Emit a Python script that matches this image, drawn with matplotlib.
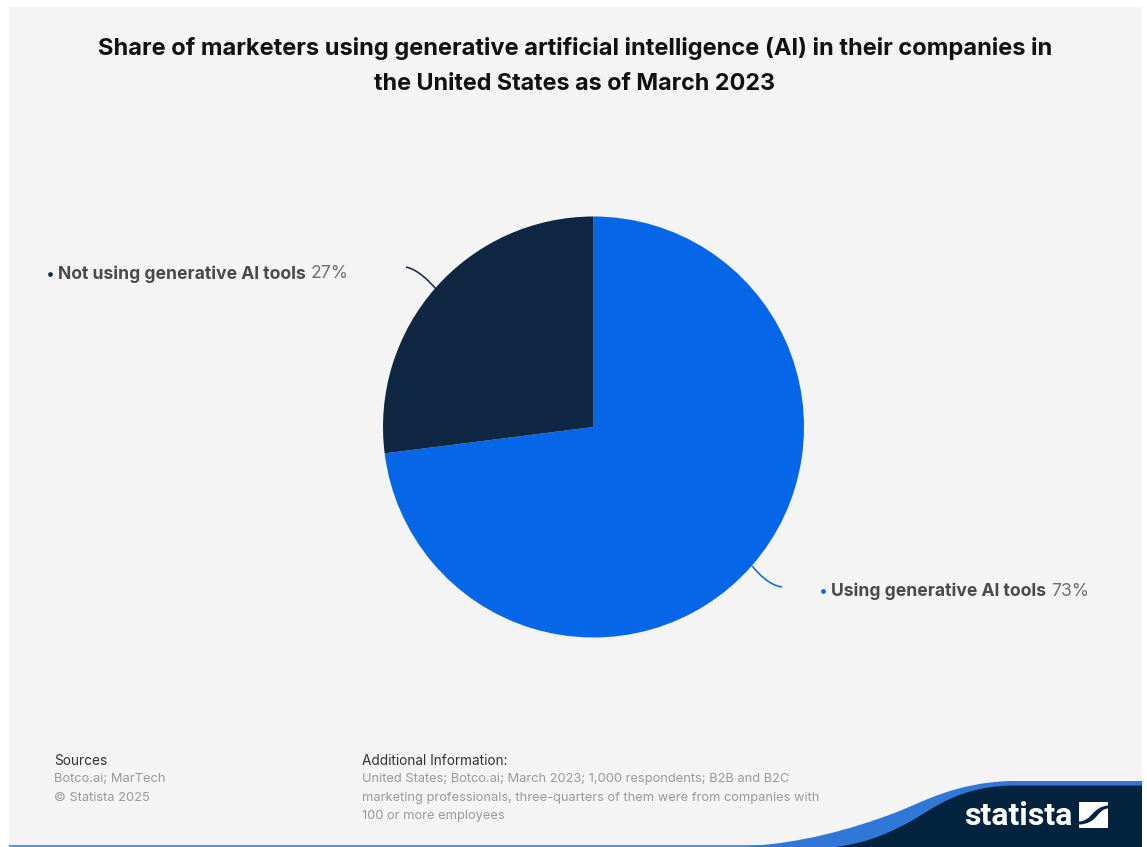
#!/usr/bin/env python3
import matplotlib
matplotlib.use("Agg")
import matplotlib.pyplot as plt
from matplotlib.patches import PathPatch, Rectangle
from matplotlib.path import Path

W, H = 1147, 847

title_lines = [
    "Share of marketers using generative artificial intelligence (AI) in their companies in",
    "the United States as of March 2023",
]
categories = ["Using generative AI tools", "Not using generative AI tools"]
shares = [73, 27]
colors = ["#0666e8", "#0f2742"]

source_lines = ["Botco.ai; MarTech", "© Statista 2025"]
info_lines = [
    "United States; Botco.ai; March 2023; 1,000 respondents; B2B and B2C",
    "marketing professionals, three-quarters of them were from companies with",
    "100 or more employees",
]

plt.rcParams["font.family"] = ["Inter", "DejaVu Sans"]


def curve(ax, verts, codes, **kw):
    ax.add_patch(PathPatch(Path(verts, codes), **kw))


def draw_footer(ax):
    M, C, L, Z = Path.MOVETO, Path.CURVE4, Path.LINETO, Path.CLOSEPOLY
    ax.add_patch(Rectangle((9, 845), 1133, 2, color="#5b94dc", lw=0, zorder=1))

    # swoosh behind the logo: blue edge on top of the navy block
    codes = [M, C, C, C, C, C, C, L, L, L, Z]
    blue = [(750, 846), (800, 843), (850, 830), (897, 812),
            (925, 801), (955, 783), (1010, 781),
            (1142, 781), (1142, 847), (750, 847), (750, 846)]
    curve(ax, blue, codes, fc="#2f78d8", ec="none", zorder=2)
    navy = [(835, 847), (870, 843), (895, 830), (913, 820),
            (935, 807), (960, 787), (1010, 785.5),
            (1142, 785.5), (1142, 847), (835, 847), (835, 847)]
    curve(ax, navy, codes, fc="#04233f", ec="none", zorder=3)

    ax.text(1018.5, 816, "statista", color="white", fontsize=23, fontweight="bold",
            family=["Roboto", "DejaVu Sans"], ha="center", va="center", zorder=4)

    # logo mark: white square split by a navy s-curve
    ax.add_patch(Rectangle((1079, 802.5), 29, 25.5, color="white", lw=0, zorder=4))
    band = [(1079, 821.5), (1092, 821), (1092, 807), (1108, 805.5),
            (1108, 808.5), (1097, 809), (1098, 824), (1079, 824.5), (1079, 821.5)]
    band_codes = [M, C, C, C, L, C, C, C, Z]
    curve(ax, band, band_codes, fc="#04233f", ec="none", zorder=5)


def main():
    fig = plt.figure(figsize=(W / 100, H / 100), dpi=100, facecolor="white")

    bg = fig.add_axes([0, 0, 1, 1])
    bg.set_xlim(0, W)
    bg.set_ylim(H, 0)
    bg.axis("off")
    bg.add_patch(Rectangle((9, 7), 1133, 840, color="#f4f4f4", lw=0, zorder=0))

    for line, y, size in zip(title_lines, [48.5, 84.5], [17.05, 16.8]):
        bg.text(575, y, line, fontsize=size, fontweight="bold", color="#111111",
                ha="center", va="center")

    # pie axes sized so that the radius comes out at 210 px
    cx, cy, r = 593.5, 427, 210.5
    pie_ax = fig.add_axes([(cx - r) / W, 1 - (cy + r) / H, 2 * r / W, 2 * r / H])
    pie_ax.pie(shares, colors=colors, startangle=90, counterclock=False, radius=1,
               wedgeprops={"linewidth": 0})
    pie_ax.set_xlim(-1, 1)
    pie_ax.set_ylim(-1, 1)

    # leader lines
    M, C = Path.MOVETO, Path.CURVE4
    curve(bg, [(406, 267), (418, 270), (427, 279), (437, 290)], [M, C, C, C],
          fc="none", ec=colors[1], lw=1.1)
    curve(bg, [(752, 566), (760, 575), (769, 585), (782, 587)], [M, C, C, C],
          fc="none", ec=colors[0], lw=1.1)

    # slice labels: bullet, bold name, regular percentage
    label_pos = [(820, 591), (47, 274)]
    for (x, y), name, share, col in zip(label_pos, categories, shares, colors):
        bg.plot([x + 3], [y], "o", ms=3.4, color=col, mew=0)
        t = bg.text(x + 11, y, name, fontsize=12.6, fontweight="bold", color="#4a4a4a",
                    ha="left", va="center")
        fig.canvas.draw()
        end = t.get_window_extent().x1
        bg.text(end + 5, y, f"{share}%", fontsize=12.6, color="#6f6f6f",
                ha="left", va="center")

    bg.text(54, 761, "Sources", fontsize=9.8, color="#333333", va="center")
    for line, y in zip(source_lines, [779, 797.5]):
        bg.text(54, y, line, fontsize=9.3, color="#9a9a9a", va="center")

    bg.text(361.5, 761, "Additional Information:", fontsize=9.8, color="#333333", va="center")
    for line, y in zip(info_lines, [779, 797.5, 816]):
        bg.text(361.5, y, line, fontsize=9.25, color="#9a9a9a", va="center")

    draw_footer(bg)

    fig.savefig("out.png", dpi=100, facecolor=fig.get_facecolor())
    plt.close(fig)


if __name__ == "__main__":
    main()
